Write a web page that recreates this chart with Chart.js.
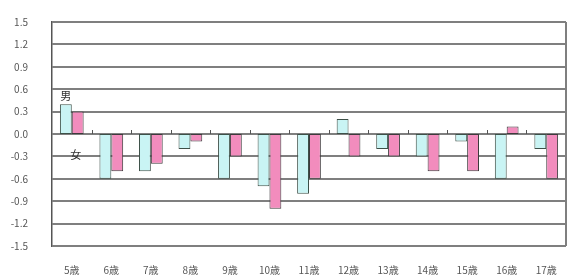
<!DOCTYPE html>
<html>
<head>
<meta charset="utf-8">
<script src="https://cdn.jsdelivr.net/npm/chart.js@4/dist/chart.umd.min.js"></script>
<style>
  html, body { margin: 0; padding: 0; background: #fff; }
  #wrap { width: 569px; height: 278px; }
</style>
</head>
<body>
<div id="wrap"><canvas id="chart" width="569" height="278"></canvas></div>
<script>
// ages and the two series (difference from national average)
const ages = ['5歳', '6歳', '7歳', '8歳', '9歳', '10歳', '11歳', '12歳', '13歳', '14歳', '15歳', '16歳', '17歳'];
const boys = [0.4, -0.6, -0.5, -0.2, -0.6, -0.7, -0.8, 0.2, -0.2, -0.3, -0.1, -0.6, -0.2];
const girls = [0.3, -0.5, -0.4, -0.1, -0.3, -1.0, -0.6, -0.3, -0.3, -0.5, -0.5, 0.1, -0.6];
const yMin = -1.5, yMax = 1.5, yStep = 0.3;
const seriesNames = ['男', '女'];

const labelFont = { family: '"Noto Sans CJK JP", "DejaVu Sans", sans-serif', size: 10 };

// horizontal grid + plot frame, drawn under the bars
const frame = {
  id: 'frame',
  beforeDatasetsDraw(chart) {
    const ctx = chart.ctx;
    const y = chart.scales.y;
    const area = chart.chartArea;
    ctx.save();
    ctx.fillStyle = '#7f7f7f';
    y.ticks.forEach(t => {
      const py = Math.round(y.getPixelForValue(t.value));
      ctx.fillRect(area.left, py - 1, area.right - area.left, 2);
    });
    ctx.fillRect(Math.round(area.right) - 1, area.top, 2, area.bottom - area.top);
    ctx.restore();
  },
  // small ticks on the zero line and the 男/女 marks
  afterDatasetsDraw(chart) {
    const ctx = chart.ctx;
    const x = chart.scales.x;
    const y = chart.scales.y;
    const zero = Math.round(y.getPixelForValue(0));

    ctx.save();
    ctx.fillStyle = '#555';
    for (let i = 1; i < ages.length; i++) {
      const px = Math.round((x.getPixelForValue(i - 1) + x.getPixelForValue(i)) / 2);
      ctx.fillRect(px, zero - 4, 1, 4);
    }

    const b = chart.getDatasetMeta(0).data[0];
    const g = chart.getDatasetMeta(1).data[0];
    ctx.fillStyle = '#333';
    ctx.font = '11px "Noto Sans CJK JP", sans-serif';
    ctx.textAlign = 'center';
    ctx.textBaseline = 'middle';
    ctx.fillText(seriesNames[0], b.x, b.y - 8);
    ctx.fillText(seriesNames[1], g.x - 2, y.getPixelForValue(-0.28));
    ctx.restore();
  }
};

const ctx = document.getElementById('chart').getContext('2d');
new Chart(ctx, {
  type: 'bar',
  data: {
    labels: ages,
    datasets: [
      {
        label: seriesNames[0],
        data: boys,
        backgroundColor: '#c9f4f4',
        borderColor: '#3d5048',
        borderWidth: 1,
        borderSkipped: false
      },
      {
        label: seriesNames[1],
        data: girls,
        backgroundColor: '#f28cbd',
        borderColor: '#3d3a3c',
        borderWidth: 1,
        borderSkipped: false
      }
    ]
  },
  options: {
    responsive: false,
    animation: false,
    layout: { padding: { top: 19, right: 3, left: 0, bottom: 0 } },
    plugins: {
      legend: { display: false },
      tooltip: { enabled: false }
    },
    datasets: {
      bar: { categoryPercentage: 0.6, barPercentage: 1.0 }
    },
    scales: {
      x: {
        grid: { display: false },
        border: { display: false },
        ticks: { color: '#555', font: labelFont, padding: 10, maxRotation: 0 },
        afterFit(axis) { axis.height = 32; }
      },
      y: {
        min: yMin,
        max: yMax,
        grid: { display: false },
        border: { display: true, color: '#555', width: 1.5 },
        ticks: {
          stepSize: yStep,
          color: '#555',
          font: labelFont,
          padding: 16,
          callback: v => Number(v).toFixed(1)
        },
        afterFit(axis) { axis.width = 52; }
      }
    }
  },
  plugins: [frame]
});
</script>
</body>
</html>
